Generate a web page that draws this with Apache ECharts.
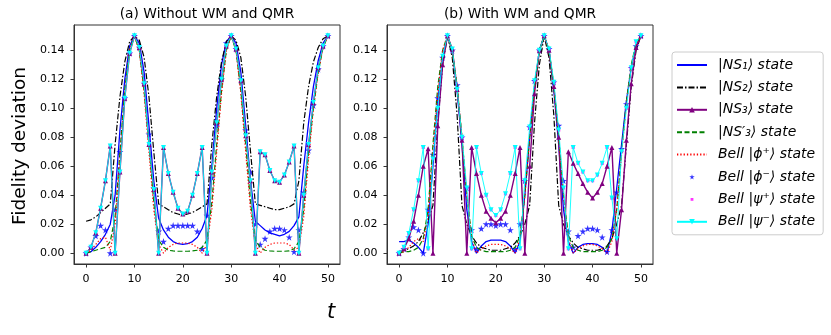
<!DOCTYPE html>
<html>
<head>
<meta charset="utf-8">
<title>Fidelity deviation</title>
<script src="https://cdn.jsdelivr.net/npm/echarts@6/dist/echarts.min.js"></script>
<style>
    html, body { margin: 0; padding: 0; background: #fff; }
    #fidelity_chart { width: 831px; height: 335px; }
</style>
</head>
<body>
<div id="fidelity_chart"></div>
<script>

// Data
// ------------------------------

var T = [0, 1, 2, 3, 4, 5, 6, 7, 8, 9, 10, 11, 12, 13, 14, 15, 16, 17, 18, 19, 20,
    21, 22, 23, 24, 25, 26, 27, 28, 29, 30, 31, 32, 33, 34, 35, 36, 37, 38, 39, 40,
    41, 42, 43, 44, 45, 46, 47, 48, 49, 50];

var X_TICKS = [0, 10, 20, 30, 40, 50];
var Y_TICKS = [0, 0.02, 0.04, 0.06, 0.08, 0.10, 0.12, 0.14];

var SERIES_NAMES = ['|NS\u2081\u27E9 state', '|NS\u2082\u27E9 state', '|NS\u2083\u27E9 state', '|NS\u2032\u2083\u27E9 state',
    'Bell |\u03D5\u207A\u27E9 state', 'Bell |\u03D5\u207B\u27E9 state', 'Bell |\u03C8\u207A\u27E9 state', 'Bell |\u03C8\u207B\u27E9 state'];

// (a) Without WM and QMR
var aNS1 = [0.000, 0.001, 0.004, 0.008, 0.013, 0.020, 0.040, 0.085, 0.120, 0.143, 0.150,
    0.145, 0.125, 0.088, 0.050, 0.024, 0.016, 0.011, 0.008, 0.0065, 0.006,
    0.0065, 0.008, 0.011, 0.017, 0.026, 0.060, 0.100, 0.130, 0.146, 0.150,
    0.145, 0.125, 0.088, 0.050, 0.022, 0.019, 0.016, 0.014, 0.013, 0.012,
    0.013, 0.015, 0.019, 0.025, 0.060, 0.090, 0.115, 0.133, 0.145, 0.150];
var aNS2 = [0.022, 0.023, 0.025, 0.028, 0.031, 0.034, 0.075, 0.108, 0.132, 0.146, 0.150,
    0.147, 0.135, 0.108, 0.070, 0.034, 0.032, 0.030, 0.028, 0.027, 0.026,
    0.027, 0.028, 0.030, 0.032, 0.034, 0.075, 0.108, 0.132, 0.146, 0.150,
    0.147, 0.135, 0.108, 0.070, 0.034, 0.033, 0.032, 0.031, 0.030, 0.030,
    0.031, 0.032, 0.034, 0.050, 0.090, 0.115, 0.132, 0.142, 0.148, 0.150];
var aNS3 = [0.000, 0.004, 0.014, 0.031, 0.050, 0.074, 0.000, 0.056, 0.107, 0.138, 0.150,
    0.142, 0.117, 0.075, 0.044, 0.000, 0.073, 0.055, 0.042, 0.031, 0.027,
    0.029, 0.040, 0.055, 0.073, 0.000, 0.056, 0.090, 0.120, 0.143, 0.150,
    0.141, 0.119, 0.081, 0.050, 0.000, 0.070, 0.068, 0.057, 0.050, 0.049,
    0.054, 0.063, 0.074, 0.000, 0.040, 0.075, 0.104, 0.128, 0.143, 0.150];
var aNS3p = [0.000, 0.001, 0.002, 0.003, 0.004, 0.008, 0.025, 0.070, 0.113, 0.140, 0.150,
    0.140, 0.112, 0.075, 0.035, 0.009, 0.004, 0.002, 0.0015, 0.0013, 0.0013,
    0.0013, 0.0015, 0.002, 0.004, 0.009, 0.035, 0.075, 0.112, 0.140, 0.150,
    0.140, 0.112, 0.075, 0.035, 0.009, 0.004, 0.002, 0.0015, 0.0013, 0.0013,
    0.0013, 0.0015, 0.003, 0.008, 0.030, 0.070, 0.100, 0.125, 0.142, 0.150];
var aPhiPlus = [0.000, 0.002, 0.006, 0.010, 0.011, 0.002, 0.020, 0.065, 0.110, 0.140, 0.150,
    0.140, 0.110, 0.070, 0.030, 0.006, 0.000, 0.004, 0.006, 0.007, 0.007,
    0.007, 0.006, 0.004, 0.000, 0.006, 0.030, 0.070, 0.110, 0.140, 0.150,
    0.140, 0.110, 0.070, 0.030, 0.006, 0.000, 0.004, 0.006, 0.007, 0.007,
    0.007, 0.006, 0.002, 0.004, 0.025, 0.065, 0.100, 0.125, 0.142, 0.150];
var aPhiMinus = [0.000, 0.004, 0.012, 0.019, 0.016, 0.000, 0.030, 0.070, 0.107, 0.138, 0.150,
    0.142, 0.117, 0.082, 0.045, 0.015, 0.008, 0.017, 0.019, 0.019, 0.019,
    0.019, 0.019, 0.015, 0.003, 0.026, 0.052, 0.088, 0.120, 0.145, 0.150,
    0.141, 0.120, 0.085, 0.056, 0.020, 0.006, 0.010, 0.015, 0.017, 0.017,
    0.016, 0.011, 0.001, 0.016, 0.042, 0.071, 0.102, 0.127, 0.143, 0.150];
var aPsiPlus = aNS3;
var aPsiMinus = aNS3;

// (b) With WM and QMR
var bNS1 = [0.008, 0.008, 0.009, 0.007, 0.004, 0.000, 0.020, 0.060, 0.105, 0.135, 0.150,
    0.140, 0.112, 0.075, 0.030, 0.008, 0.000, 0.005, 0.008, 0.009, 0.009,
    0.009, 0.008, 0.005, 0.000, 0.008, 0.040, 0.080, 0.115, 0.140, 0.150,
    0.140, 0.112, 0.075, 0.030, 0.008, 0.000, 0.004, 0.006, 0.0065, 0.0065,
    0.006, 0.004, 0.000, 0.015, 0.045, 0.075, 0.105, 0.128, 0.143, 0.150];
var bNS2 = [0.001, 0.002, 0.003, 0.005, 0.008, 0.014, 0.022, 0.033, 0.090, 0.130, 0.150,
    0.135, 0.095, 0.033, 0.020, 0.012, 0.007, 0.004, 0.003, 0.002, 0.002,
    0.002, 0.003, 0.004, 0.007, 0.012, 0.020, 0.033, 0.090, 0.130, 0.150,
    0.135, 0.095, 0.033, 0.020, 0.012, 0.007, 0.004, 0.003, 0.002, 0.002,
    0.002, 0.003, 0.005, 0.010, 0.020, 0.033, 0.075, 0.115, 0.140, 0.150];
var bNS3 = [0.000, 0.003, 0.010, 0.022, 0.040, 0.060, 0.072, 0.000, 0.088, 0.130, 0.150,
    0.141, 0.113, 0.078, 0.000, 0.073, 0.055, 0.040, 0.029, 0.024, 0.021,
    0.024, 0.029, 0.040, 0.055, 0.073, 0.000, 0.060, 0.110, 0.140, 0.150,
    0.140, 0.115, 0.080, 0.000, 0.070, 0.062, 0.055, 0.048, 0.042, 0.038,
    0.042, 0.048, 0.060, 0.073, 0.000, 0.030, 0.078, 0.117, 0.142, 0.150];
var bNS3p = [0.000, 0.001, 0.001, 0.002, 0.004, 0.010, 0.030, 0.075, 0.115, 0.140, 0.150,
    0.140, 0.115, 0.080, 0.040, 0.012, 0.004, 0.002, 0.001, 0.001, 0.001,
    0.001, 0.001, 0.002, 0.004, 0.012, 0.040, 0.080, 0.115, 0.140, 0.150,
    0.140, 0.115, 0.080, 0.040, 0.012, 0.004, 0.002, 0.001, 0.001, 0.001,
    0.001, 0.002, 0.004, 0.010, 0.030, 0.070, 0.105, 0.130, 0.145, 0.150];
var bPhiPlus = [0.000, 0.001, 0.004, 0.008, 0.010, 0.008, 0.025, 0.070, 0.110, 0.140, 0.150,
    0.140, 0.115, 0.080, 0.040, 0.010, 0.000, 0.003, 0.005, 0.006, 0.006,
    0.006, 0.005, 0.003, 0.000, 0.010, 0.040, 0.080, 0.115, 0.140, 0.150,
    0.140, 0.115, 0.080, 0.040, 0.010, 0.000, 0.003, 0.005, 0.006, 0.006,
    0.005, 0.003, 0.000, 0.008, 0.030, 0.068, 0.103, 0.128, 0.144, 0.150];
var bPhiMinus = [0.000, 0.003, 0.011, 0.018, 0.016, 0.000, 0.030, 0.068, 0.107, 0.135, 0.150,
    0.140, 0.116, 0.080, 0.045, 0.016, 0.003, 0.017, 0.020, 0.020, 0.019,
    0.020, 0.020, 0.016, 0.003, 0.020, 0.050, 0.087, 0.119, 0.140, 0.150,
    0.141, 0.118, 0.088, 0.050, 0.015, 0.004, 0.012, 0.015, 0.017, 0.017,
    0.016, 0.011, 0.001, 0.016, 0.042, 0.072, 0.103, 0.128, 0.143, 0.150];
var bPsiMinus = [0.000, 0.004, 0.0135, 0.030, 0.050, 0.073, 0.003, 0.065, 0.100, 0.136, 0.150,
    0.141, 0.113, 0.080, 0.045, 0.003, 0.073, 0.055, 0.040, 0.030, 0.026,
    0.030, 0.041, 0.055, 0.073, 0.003, 0.050, 0.087, 0.119, 0.140, 0.150,
    0.141, 0.118, 0.085, 0.045, 0.003, 0.073, 0.062, 0.056, 0.050, 0.050,
    0.054, 0.062, 0.073, 0.038, 0.010, 0.070, 0.100, 0.128, 0.146, 0.150];
var bPsiPlus = bPsiMinus;


// Setup chart
// ------------------------------

var chartElement = document.getElementById('fidelity_chart');
var chart = echarts.init(chartElement, null, { renderer: 'canvas' });

// Styles
var fontFamily = 'DejaVu Sans',
    frameColor = '#333',
    noSymbol = 'path://M0,0 M10,10',
    starPath = 'path://M50,0 L61,35 L98,35 L68,57 L79,91 L50,70 L21,91 L32,57 L2,35 L39,35 Z',
    smallStarPath = 'path://M-12,-14 M50,0 L61,35 L98,35 L68,57 L79,91 L50,70 L21,91 L32,57 L2,35 L39,35 Z M112,110',
    dotPath = 'path://M0,0 M30,30 L70,30 L70,70 L30,70 Z M100,100';

var grids = [
    { left: 74, top: 25, width: 266, height: 239 },
    { left: 387, top: 25, width: 266, height: 239 }
];

// Pair values with time points
var pairs = function(values) {
    return T.map(function(t, i) { return [t, values[i]]; });
};

// Build the eight series of one panel
var panelSeries = function(idx, d) {
    var base = { xAxisIndex: idx, yAxisIndex: idx, animation: false, silent: true };
    var list = [
        { name: SERIES_NAMES[0], type: 'line', data: pairs(d.ns1), symbol: noSymbol, showSymbol: false,
          lineStyle: { color: '#0000ff', width: 1.3 }, itemStyle: { color: '#0000ff' } },
        { name: SERIES_NAMES[1], type: 'line', data: pairs(d.ns2), symbol: noSymbol, showSymbol: false,
          lineStyle: { color: '#000', width: 1.2, type: [6, 2, 1.5, 2] }, itemStyle: { color: '#000' } },
        { name: SERIES_NAMES[2], type: 'line', data: pairs(d.ns3), symbol: 'triangle', symbolSize: 5,
          lineStyle: { color: '#800080', width: 1.4 }, itemStyle: { color: '#800080' } },
        { name: SERIES_NAMES[3], type: 'line', data: pairs(d.ns3p), symbol: noSymbol, showSymbol: false,
          lineStyle: { color: '#008000', width: 1.2, type: [5, 2.5] }, itemStyle: { color: '#008000' } },
        { name: SERIES_NAMES[4], type: 'line', data: pairs(d.phiPlus), symbol: noSymbol, showSymbol: false,
          lineStyle: { color: '#ff0000', width: 1.2, type: [1.3, 2] }, itemStyle: { color: '#ff0000' } },
        { name: SERIES_NAMES[5], type: 'scatter', data: pairs(d.phiMinus), symbol: starPath, symbolSize: 7,
          itemStyle: { color: '#0000ff' } },
        { name: SERIES_NAMES[6], type: 'scatter', data: pairs(d.psiPlus), symbol: dotPath, symbolSize: 8,
          itemStyle: { color: '#ff00ff' } },
        { name: SERIES_NAMES[7], type: 'line', data: pairs(d.psiMinus), symbol: 'triangle', symbolRotate: 180,
          symbolSize: 5, lineStyle: { color: '#00ffff', width: 0.9 }, itemStyle: { color: '#00ffff' } }
    ];
    return list.map(function(s) { return Object.assign({}, base, s); });
};

var makeXAxis = function(idx) {
    return {
        type: 'value', gridIndex: idx, min: -2.5, max: 52.5,
        axisLine: { show: true, onZero: false, lineStyle: { color: frameColor, width: 1 } },
        axisTick: { show: true, length: 3.5, customValues: X_TICKS, lineStyle: { color: frameColor } },
        axisLabel: { customValues: X_TICKS, color: '#000', fontSize: 11, margin: 10, fontFamily: fontFamily },
        splitLine: { show: false }
    };
};

var makeYAxis = function(idx) {
    return {
        type: 'value', gridIndex: idx, min: -0.0075, max: 0.1575,
        axisLine: { show: true, onZero: false, lineStyle: { color: frameColor, width: 1 } },
        axisTick: { show: true, length: 3.5, customValues: Y_TICKS, lineStyle: { color: frameColor } },
        axisLabel: {
            customValues: Y_TICKS, color: '#000', fontSize: 11, margin: 9.5, fontFamily: fontFamily,
            formatter: function(v) { return v.toFixed(2); }
        },
        splitLine: { show: false }
    };
};

var series = panelSeries(0, {
    ns1: aNS1, ns2: aNS2, ns3: aNS3, ns3p: aNS3p,
    phiPlus: aPhiPlus, phiMinus: aPhiMinus, psiPlus: aPsiPlus, psiMinus: aPsiMinus
}).concat(panelSeries(1, {
    ns1: bNS1, ns2: bNS2, ns3: bNS3, ns3p: bNS3p,
    phiPlus: bPhiPlus, phiMinus: bPhiMinus, psiPlus: bPsiPlus, psiMinus: bPsiMinus
}));

// Legend entries (the star is drawn a little smaller in the legend)
var legendData = SERIES_NAMES.map(function(name, i) {
    return i === 5 ? { name: name, icon: smallStarPath } : { name: name };
});

chart.setOption({
    animation: false,
    textStyle: { fontFamily: fontFamily },
    grid: grids.map(function(g) {
        return Object.assign({ show: true, borderColor: frameColor, borderWidth: 1, backgroundColor: 'transparent' }, g);
    }),
    xAxis: [makeXAxis(0), makeXAxis(1)],
    yAxis: [makeYAxis(0), makeYAxis(1)],
    legend: {
        orient: 'vertical', left: 672, top: 52,
        padding: [5, 8, 5, 4], itemGap: 6.4, itemWidth: 30, itemHeight: 7,
        borderColor: '#ccc', borderWidth: 1, borderRadius: 3,
        data: legendData,
        textStyle: { fontSize: 14, lineHeight: 16, fontStyle: 'italic', color: '#000', fontFamily: fontFamily, padding: [0, 0, 0, 6] }
    },
    graphic: [
        { type: 'text', x: 207, y: 14, style: { text: '(a) Without WM and QMR', textAlign: 'center', textVerticalAlign: 'middle', fontSize: 13.8, fontFamily: fontFamily, fill: '#000' } },
        { type: 'text', x: 520, y: 14, style: { text: '(b) With WM and QMR', textAlign: 'center', textVerticalAlign: 'middle', fontSize: 13.8, fontFamily: fontFamily, fill: '#000' } },
        { type: 'text', x: 20, y: 146, rotation: Math.PI / 2, style: { text: 'Fidelity deviation', textAlign: 'center', textVerticalAlign: 'middle', fontSize: 18.5, fontFamily: fontFamily, fill: '#000' } },
        { type: 'text', x: 331, y: 313, style: { text: 't', textAlign: 'center', textVerticalAlign: 'middle', fontSize: 21, fontStyle: 'italic', fontFamily: fontFamily, fill: '#000' } }
    ],
    series: series
});

</script>
</body>
</html>
